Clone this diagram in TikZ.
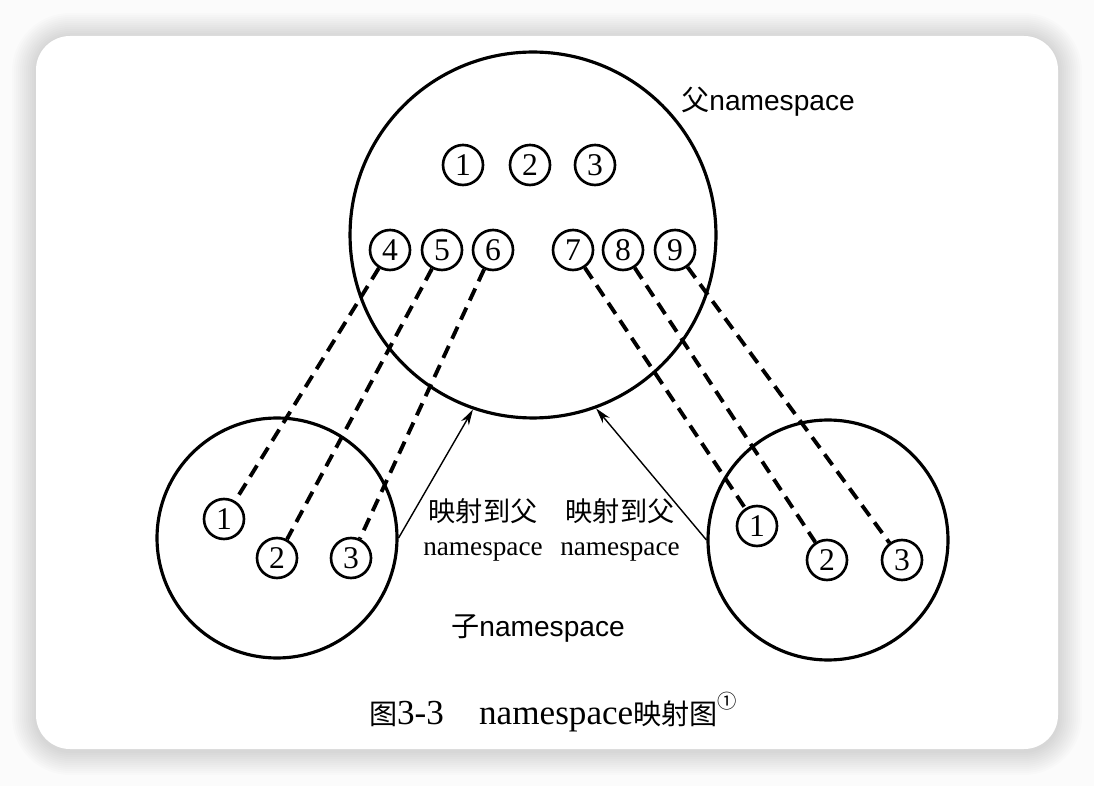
\documentclass[tikz,border=0pt]{standalone}
\usepackage{fontspec}
\setmainfont{Liberation Serif}
\newfontfamily\cjk{Noto Sans CJK SC}
\newfontfamily\hei{Liberation Sans}
\usetikzlibrary{arrows.meta}
\tikzset{
  ns/.style={circle,draw,line width=1.8pt,inner sep=0pt,minimum size=#1},
  num/.style={circle,draw,line width=1.5pt,inner sep=0pt,minimum size=0.8cm,
    font=\fontsize{18}{18}\selectfont},
  link/.style={line width=2.2pt,dash pattern=on 7.5pt off 4.5pt},
  mapto/.style={line width=0.8pt,-{Stealth[length=9pt,width=5pt]}},
  maplabel/.style={align=center,font=\fontsize{15.5}{19}\selectfont},
  nslabel/.style={font=\hei\fontsize{16}{16}\selectfont}
}

\begin{document}
\begin{tikzpicture}[x=0.02cm,y=-0.02cm]
   % card with soft shadow
   \fill[gray!3] (0,0) rectangle (1094,786);
   \foreach \d in {1,...,12}
     \fill[black,opacity=0.012,rounded corners=0.68cm+\d*0.04cm]
       (36-2*\d,37-2*\d) rectangle (1058+2*\d,751+2*\d);
   \fill[white,rounded corners=0.68cm] (36,36) rectangle (1058,749);

   % parent and child namespaces
   \node[ns=7.32cm] (par) at (533,235) {};
   \node[ns=4.8cm] (lc) at (277,538) {};
   \node[ns=4.8cm] (rc) at (828,540) {};

   \foreach \n/\x/\y in {1/463/165,2/530/165,3/595/165,
                         4/390/250,5/442/250,6/493/250,
                         7/573/250,8/623/250,9/675/250}
     \node[num] (p\n) at (\x,\y) {\n};

   \node[num] (l1) at (224,519) {1};
   \node[num] (l2) at (277,558) {2};
   \node[num] (l3) at (351,558) {3};

   \node[num] (r1) at (757,526) {1};
   \node[num] (r2) at (827,560) {2};
   \node[num] (r3) at (902,560) {3};

   \foreach \a/\b in {4/1,5/2,6/3}
     \draw[link] (p\a) -- (l\b);
   \foreach \a/\b in {7/1,8/2,9/3}
     \draw[link] (p\a) -- (r\b);

   \draw[mapto] (lc.east) -- (par.251);
   \draw[mapto] (rc.west) -- (par.290);

   \node[maplabel] (mapl) at (483,530) {{\cjk 映射到父}\\namespace};
   \node[maplabel] (mapr) at (620,530) {{\cjk 映射到父}\\namespace};

   \node[nslabel] (ptext) at (768,102) {{\cjk 父}namespace};
   \node[nslabel] (ctext) at (538,628) {{\cjk 子}namespace};

   % caption
   \node[font=\fontsize{20}{20}\selectfont] (cap) at (553,712)
     {{\cjk\fontsize{16}{16}\selectfont 图}3-3\quad namespace{\cjk\fontsize{16}{16}\selectfont 映射图}\raisebox{1.0ex}{\cjk\fontsize{11}{11}\selectfont ①}};
\end{tikzpicture}
\end{document}
